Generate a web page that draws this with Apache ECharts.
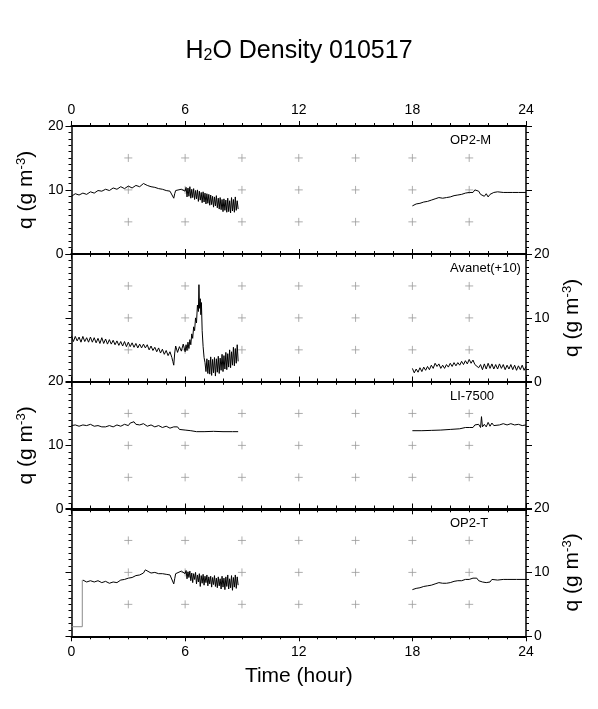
<!DOCTYPE html>
<html>
<head>
<meta charset="utf-8">
<script src="https://cdn.jsdelivr.net/npm/echarts@6/dist/echarts.min.js"></script>
<style>
  html, body { margin: 0; padding: 0; background: #fff; }
  #main { width: 598px; height: 709px; }
</style>
</head>
<body>
<div id="main"></div>
<script>
// panel names, top to bottom
const panelLabels = ['OP2-M', 'Avanet(+10)', 'LI-7500', 'OP2-T']
// where the little grey "+" marks sit
const crossHours = [3, 6, 9, 12, 15, 18, 21]
const crossLevels = [5, 10, 15]

// OP2-M, [hour, q]
const op2mAm = [
    [0.0, 9.0], [0.2, 9.4], [0.4, 9.2], [0.6, 9.5], [0.8, 9.3], [1.0, 9.7], [1.2, 9.5], [1.4, 9.9], [1.6, 9.8],
    [1.8, 10.1], [2.0, 9.9], [2.2, 10.3], [2.4, 10.1], [2.6, 10.5], [2.8, 10.2], [3.0, 10.6], [3.2, 10.3],
    [3.4, 10.7], [3.6, 10.5], [3.8, 11.0], [4.0, 10.7], [4.2, 10.5], [4.4, 10.4], [4.6, 10.2], [4.8, 10.1],
    [5.0, 9.9], [5.2, 9.8], [5.3, 9.6], [5.4, 8.7], [5.45, 9.4], [5.5, 9.9], [5.6, 10.2], [5.8, 10.1],
    [5.9, 10.4], [6.0, 9.8],
    [6.05, 10.4], [6.1, 8.9], [6.15, 10.3], [6.2, 9.0], [6.25, 10.5], [6.3, 8.7], [6.35, 10.1], [6.4, 8.8],
    [6.45, 10.2], [6.5, 8.5], [6.55, 9.9], [6.6, 8.6], [6.65, 10.0], [6.7, 8.2], [6.75, 9.8], [6.8, 8.4],
    [6.85, 9.6], [6.9, 8.0], [6.95, 9.7], [7.0, 8.1], [7.05, 9.5], [7.1, 7.8], [7.15, 9.4], [7.2, 7.9],
    [7.25, 9.3], [7.3, 7.6], [7.35, 9.2], [7.4, 7.7], [7.45, 9.0], [7.5, 7.3], [7.55, 8.9], [7.6, 7.5],
    [7.65, 9.1], [7.7, 7.2], [7.75, 8.7], [7.8, 7.0], [7.85, 8.8], [7.9, 6.9], [7.95, 8.5], [8.0, 6.6],
    [8.05, 8.6], [8.1, 6.8], [8.15, 8.4], [8.2, 6.5], [8.25, 8.7], [8.3, 6.6], [8.35, 8.3], [8.4, 6.4],
    [8.45, 8.8], [8.5, 6.7], [8.55, 8.5], [8.6, 6.5], [8.65, 8.9], [8.7, 6.8], [8.75, 8.3], [8.8, 7.0]
]
const op2mPm = [
    [18.0, 7.5], [18.2, 7.8], [18.4, 7.9], [18.6, 8.1], [18.8, 8.2], [19.0, 8.4], [19.2, 8.6], [19.4, 8.8],
    [19.6, 8.7], [19.8, 8.8], [20.0, 8.9], [20.2, 9.1], [20.4, 9.2], [20.6, 9.3], [20.8, 9.5], [21.0, 9.6],
    [21.1, 9.9], [21.2, 9.6], [21.3, 10.0], [21.4, 9.7], [21.5, 9.8], [21.6, 9.3], [21.7, 9.6], [21.8, 9.0],
    [21.9, 9.4], [22.0, 8.9], [22.1, 9.3], [22.2, 9.2], [22.3, 9.6], [22.4, 9.3], [22.5, 9.7], [22.6, 9.5],
    [22.8, 9.6], [23.0, 9.6], [23.3, 9.6], [23.6, 9.6], [24.0, 9.6]
]

// Avanet, already shifted by +10 in the plot
const avanetAm = [
    [0.0, 7.2], [0.1, 6.3], [0.2, 7.1], [0.3, 6.4], [0.4, 7.0], [0.5, 6.2], [0.6, 7.1], [0.7, 6.3], [0.8, 6.9],
    [0.9, 6.2], [1.0, 7.0], [1.1, 6.2], [1.2, 6.9], [1.3, 6.1], [1.4, 6.8], [1.5, 6.0], [1.6, 6.9], [1.7, 6.0],
    [1.8, 6.7], [1.9, 5.9], [2.0, 6.6], [2.1, 5.9], [2.2, 6.5], [2.3, 5.8], [2.4, 6.4], [2.5, 5.7], [2.6, 6.3],
    [2.7, 5.6], [2.8, 6.3], [2.9, 5.5], [3.0, 6.2], [3.1, 5.5], [3.2, 6.1], [3.3, 5.4], [3.4, 6.0], [3.5, 5.3],
    [3.6, 5.9], [3.7, 5.3], [3.8, 5.9], [3.9, 5.3], [4.0, 5.8], [4.1, 5.0], [4.2, 5.6], [4.3, 4.9], [4.4, 5.4],
    [4.5, 4.7], [4.6, 5.3], [4.7, 4.5], [4.8, 5.1], [4.9, 4.3], [5.0, 4.9], [5.1, 4.1], [5.2, 4.7], [5.3, 3.8],
    [5.35, 3.2], [5.4, 2.6], [5.45, 4.5], [5.5, 5.6], [5.6, 4.6], [5.7, 5.5], [5.8, 4.8], [5.9, 5.9], [6.0, 4.7],
    [6.05, 5.8], [6.1, 4.9], [6.15, 6.2], [6.2, 5.2], [6.25, 6.6], [6.3, 5.8], [6.35, 7.5], [6.4, 6.8],
    [6.45, 8.6], [6.5, 8.0], [6.55, 10.0], [6.6, 9.2], [6.65, 12.0], [6.7, 11.0], [6.73, 15.2], [6.76, 11.5],
    [6.8, 13.0], [6.83, 10.5], [6.86, 12.4], [6.9, 8.0], [6.95, 5.5], [7.0, 3.8], [7.05, 3.0],
    [7.1, 1.6], [7.15, 3.6], [7.2, 1.3], [7.25, 3.4], [7.3, 1.2], [7.35, 3.9], [7.4, 1.0], [7.45, 3.5],
    [7.5, 1.4], [7.55, 3.8], [7.6, 0.9], [7.65, 3.6], [7.7, 1.5], [7.75, 4.0], [7.8, 1.3], [7.85, 3.7],
    [7.9, 1.8], [7.95, 4.3], [8.0, 1.6], [8.05, 4.1], [8.1, 2.0], [8.15, 4.6], [8.2, 1.9], [8.25, 4.4],
    [8.3, 2.3], [8.35, 5.0], [8.4, 2.2], [8.45, 4.7], [8.5, 2.6], [8.55, 5.4], [8.6, 2.5], [8.65, 5.2],
    [8.7, 2.9], [8.75, 5.8], [8.8, 3.2]
]
const avanetPm = [
    [18.0, 2.1], [18.1, 1.4], [18.2, 2.0], [18.3, 1.5], [18.4, 2.2], [18.5, 1.6], [18.6, 2.3], [18.7, 1.8],
    [18.8, 2.4], [18.9, 1.9], [19.0, 2.6], [19.1, 2.1], [19.2, 2.9], [19.3, 2.4], [19.4, 2.8], [19.5, 2.1],
    [19.6, 2.6], [19.7, 2.1], [19.8, 2.7], [19.9, 2.3], [20.0, 2.9], [20.1, 2.4], [20.2, 3.0], [20.3, 2.5],
    [20.4, 3.0], [20.5, 2.6], [20.6, 3.2], [20.7, 2.7], [20.8, 3.3], [20.9, 2.8], [21.0, 3.5], [21.1, 2.9],
    [21.2, 3.4], [21.3, 2.7], [21.4, 3.0], [21.5, 2.2], [21.6, 2.7], [21.7, 1.9], [21.8, 2.8], [21.9, 2.0],
    [22.0, 2.9], [22.1, 2.1], [22.2, 2.8], [22.3, 2.0], [22.4, 2.7], [22.5, 2.0], [22.6, 2.8], [22.7, 2.1],
    [22.8, 2.7], [22.9, 1.9], [23.0, 2.6], [23.1, 2.0], [23.2, 2.7], [23.3, 1.9], [23.4, 2.6], [23.5, 1.8],
    [23.6, 2.5], [23.7, 1.9], [23.8, 2.6], [23.9, 1.8], [24.0, 2.4]
]

// LI-7500
const li7500Am = [
    [0.0, 13.1], [0.2, 13.2], [0.4, 13.0], [0.6, 13.2], [0.8, 13.1], [1.0, 13.3], [1.2, 13.0], [1.4, 13.1],
    [1.6, 12.9], [1.8, 12.9], [2.0, 13.1], [2.2, 12.9], [2.4, 13.2], [2.6, 13.0], [2.8, 13.3], [3.0, 13.1],
    [3.1, 13.5], [3.2, 13.2], [3.3, 13.7], [3.4, 13.3], [3.5, 13.6], [3.6, 13.2], [3.8, 13.4], [4.0, 13.0],
    [4.2, 13.2], [4.4, 12.9], [4.6, 13.1], [4.8, 12.8], [5.0, 13.0], [5.2, 12.7], [5.4, 12.9], [5.5, 12.6],
    [5.6, 12.9], [5.7, 12.5], [5.8, 12.7], [6.0, 12.4], [6.3, 12.3], [6.6, 12.15], [7.0, 12.15], [7.5, 12.2],
    [8.0, 12.15], [8.5, 12.15], [8.8, 12.15]
]
const li7500Pm = [
    [18.0, 12.3], [18.5, 12.3], [19.0, 12.35], [19.5, 12.4], [20.0, 12.5], [20.5, 12.6], [20.8, 12.8],
    [21.0, 12.8], [21.1, 13.0], [21.2, 12.8], [21.3, 13.2], [21.4, 12.9], [21.5, 13.3], [21.6, 12.8],
    [21.65, 14.5], [21.7, 12.9], [21.8, 13.3], [21.9, 12.9], [22.0, 13.6], [22.1, 13.0], [22.2, 13.5],
    [22.3, 13.1], [22.4, 13.3], [22.6, 13.2], [22.8, 13.4], [23.0, 13.2], [23.2, 13.4], [23.4, 13.2],
    [23.6, 13.3], [23.8, 13.1], [24.0, 13.2]
]

// OP2-T, the first bit (grey) is before the sensor came up
const op2tStart = [[0.0, 1.5], [0.57, 1.5], [0.57, 8.8]]
const op2tAm = [
    [0.6, 8.8], [0.8, 8.5], [1.0, 8.7], [1.2, 8.5], [1.4, 8.7], [1.6, 8.4], [1.8, 8.6], [2.0, 8.3], [2.2, 8.5],
    [2.4, 8.4], [2.6, 8.8], [2.8, 8.9], [3.0, 9.1], [3.2, 9.2], [3.4, 9.5], [3.6, 9.6], [3.8, 9.9], [3.9, 10.4],
    [4.0, 10.1], [4.2, 9.9], [4.4, 10.0], [4.6, 9.8], [4.8, 9.8], [5.0, 9.7], [5.2, 9.6], [5.3, 9.3], [5.4, 8.2],
    [5.45, 9.0], [5.5, 9.8], [5.6, 10.1], [5.8, 10.2], [6.0, 9.8],
    [6.05, 10.3], [6.1, 9.0], [6.15, 10.1], [6.2, 9.2], [6.25, 10.2], [6.3, 8.7], [6.35, 9.9], [6.4, 8.4],
    [6.45, 9.8], [6.5, 8.9], [6.55, 10.0], [6.6, 8.2], [6.65, 9.6], [6.7, 8.5], [6.75, 9.8], [6.8, 7.8],
    [6.85, 9.5], [6.9, 8.3], [6.95, 9.7], [7.0, 8.0], [7.05, 9.4], [7.1, 8.4], [7.15, 9.6], [7.2, 7.9],
    [7.25, 9.3], [7.3, 8.2], [7.35, 9.4], [7.4, 7.7], [7.45, 9.2], [7.5, 8.1], [7.55, 9.5], [7.6, 7.8],
    [7.65, 9.1], [7.7, 7.6], [7.75, 9.3], [7.8, 7.9], [7.85, 9.0], [7.9, 7.4], [7.95, 9.4], [8.0, 7.7],
    [8.05, 9.1], [8.1, 7.3], [8.15, 9.3], [8.2, 7.8], [8.25, 9.6], [8.3, 7.4], [8.35, 9.0], [8.4, 7.6],
    [8.45, 9.5], [8.5, 7.2], [8.55, 9.2], [8.6, 7.7], [8.65, 9.6], [8.7, 7.5], [8.75, 9.3], [8.8, 8.0]
]
const op2tPm = [
    [18.0, 7.3], [18.2, 7.5], [18.4, 7.6], [18.6, 7.8], [18.8, 7.9], [19.0, 8.0], [19.2, 8.2], [19.4, 8.4],
    [19.6, 8.3], [19.8, 8.3], [20.0, 8.4], [20.2, 8.6], [20.4, 8.7], [20.6, 8.7], [20.8, 8.9], [21.0, 8.9],
    [21.2, 9.1], [21.3, 8.9], [21.4, 9.1], [21.5, 8.7], [21.6, 8.9], [21.7, 8.5], [21.8, 8.8], [21.9, 8.4],
    [22.0, 8.7], [22.1, 8.5], [22.2, 8.9], [22.3, 9.0], [22.5, 8.8], [22.8, 8.9], [23.0, 8.9], [23.5, 8.9],
    [24.0, 8.9]
]

const panelData = [
    [op2mAm, op2mPm],
    [avanetAm, avanetPm],
    [li7500Am, li7500Pm],
    [op2tAm, op2tPm],
]

let FONT = '"Liberation Sans", Arial, Helvetica, sans-serif'
let panelTops = [126, 254, 381.5, 508.5]
let panelHeight = 127.8
// which side carries the y labels
let labelLeft = [true, false, true, false]

let crossPoints = []
crossHours.forEach(hh => crossLevels.forEach(lv => crossPoints.push([hh, lv])))

let chart = echarts.init(document.getElementById('main'), null, {renderer: 'canvas'})

let grids = [], xAxes = [], yAxes = [], series = [], titles = []

titles.push({
    text: 'H{sub|2}O Density 010517',
    left: 'center',
    top: 38,
    padding: 0,
    textStyle: {
        fontFamily: FONT, fontSize: 25, fontWeight: 'normal', color: '#000',
        rich: {sub: {fontFamily: FONT, fontSize: 16, color: '#000', verticalAlign: 'bottom', padding: [10, 0, 0, 0]}}
    }
})

let yName = 'q (g m{sup|-3})'
let yNameStyle = {
    fontFamily: FONT, fontSize: 21, color: '#000',
    rich: {sup: {fontFamily: FONT, fontSize: 13, color: '#000', verticalAlign: 'top', padding: [0, 0, 10, 0]}}
}

function xAxisFor(i, pos, showLabels) {
    return {
        type: 'value', gridIndex: i, position: pos,
        min: 0, max: 24, interval: 6,
        axisLine: {show: true, onZero: false, lineStyle: {color: '#000', width: 2}},
        axisTick: {show: true, length: 5, lineStyle: {color: '#000', width: 1}},
        minorTick: {show: true, splitNumber: 6, length: 3, lineStyle: {color: '#000', width: 1}},
        splitLine: {show: false},
        axisLabel: {show: showLabels, margin: 9, fontFamily: FONT, fontSize: 14, color: '#000'},
        name: (showLabels && pos === 'bottom') ? 'Time (hour)' : '',
        nameLocation: 'middle', nameGap: 29,
        nameTextStyle: {fontFamily: FONT, fontSize: 21, color: '#000'},
    }
}

function yAxisFor(i, pos, showLabels) {
    return {
        type: 'value', gridIndex: i, position: pos,
        min: 0, max: 20, interval: 10,
        axisLine: {show: true, onZero: false, lineStyle: {color: '#000', width: 1.5}},
        axisTick: {show: true, length: 6, lineStyle: {color: '#000', width: 1}},
        minorTick: {show: true, splitNumber: 10, length: 3, lineStyle: {color: '#000', width: 1}},
        splitLine: {show: false},
        axisLabel: {show: showLabels, margin: 8, fontFamily: FONT, fontSize: 14, color: '#000'},
        name: showLabels ? yName : '',
        nameLocation: 'middle', nameRotate: 90, nameGap: pos === 'left' ? 23 : 28,
        nameTextStyle: yNameStyle,
    }
}

for (let i = 0; i < 4; i++) {
    grids.push({left: 71.5, right: 72, top: panelTops[i], height: panelHeight})
    // bottom axes get index i, top axes index 4+i
    xAxes[i] = xAxisFor(i, 'bottom', i === 3)
    xAxes[4 + i] = xAxisFor(i, 'top', i === 0)
    yAxes[i] = yAxisFor(i, 'left', labelLeft[i])
    yAxes[4 + i] = yAxisFor(i, 'right', !labelLeft[i])

    titles.push({
        text: panelLabels[i], left: 450, top: panelTops[i] + 8, padding: 0,
        textStyle: {fontFamily: FONT, fontSize: 13, fontWeight: 'normal', color: '#000'}
    })

    series.push({
        type: 'scatter', xAxisIndex: i, yAxisIndex: i, data: crossPoints,
        symbol: 'path://M0,5H10M5,0V10', symbolSize: 8, silent: true,
        itemStyle: {color: 'none', borderColor: '#9a9a9a', borderWidth: 1},
        z: 1,
    })

    panelData[i].forEach(seg => {
        series.push({
            type: 'line', xAxisIndex: i, yAxisIndex: i, data: seg,
            showSymbol: false, silent: true,
            lineStyle: {color: '#000', width: 1},
            z: 3,
        })
    })
}

// grey start-up segment on OP2-T
series.push({
    type: 'line', xAxisIndex: 3, yAxisIndex: 3, data: op2tStart,
    showSymbol: false, silent: true,
    lineStyle: {color: '#8c8c8c', width: 1},
    z: 2,
})

chart.setOption({
    animation: false,
    backgroundColor: '#fff',
    title: titles,
    grid: grids,
    xAxis: xAxes,
    yAxis: yAxes,
    series: series,
})
</script>
</body>
</html>
